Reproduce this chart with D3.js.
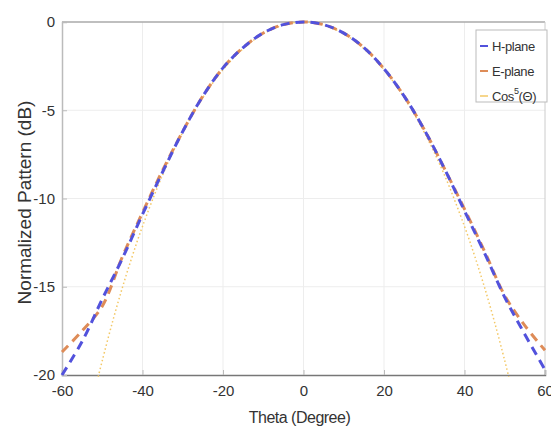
<!DOCTYPE html>
<html>
<head>
<meta charset="utf-8">
<script src="https://cdn.jsdelivr.net/npm/d3@7"></script>
<style>
  body { margin: 0; background: #fff; }
  text { font-family: "Liberation Sans", Arial, sans-serif; fill: #333; }
</style>
</head>
<body>
<div id="chart"></div>
<script>
var width = 551
var height = 441
var margin = {top: 22, right: 6, bottom: 66, left: 62}

// angles (degree) for the measured patterns
var theta = [-60, -55, -50, -45, -40, -35, -30, -25, -20, -15, -10, -5, 0,
             5, 10, 15, 20, 25, 30, 35, 40, 45, 50, 55, 60]
var hPlane = [-20.0, -18.1, -15.7, -13.4, -10.9, -8.5, -6.2, -4.2, -2.6, -1.45, -0.62, -0.15, 0,
              -0.15, -0.63, -1.45, -2.65, -4.2, -6.1, -8.3, -10.7, -13.1, -15.6, -17.7, -19.7]
var ePlane = [-18.7, -17.5, -16.1, -13.3, -10.8, -8.4, -6.2, -4.2, -2.6, -1.45, -0.62, -0.15, 0,
              -0.15, -0.63, -1.45, -2.65, -4.2, -6.1, -8.3, -10.6, -13.0, -15.5, -17.2, -18.6]
// reference cos^5 pattern
var thetaCos = [-51, -50, -47.5, -45, -42.5, -40, -35, -30, -25, -20, -15, -10, -5, 0,
                5, 10, 15, 20, 25, 30, 35, 40, 42.5, 45, 47.5, 50, 51]
var cosPattern = [-20.1, -19.19, -17.03, -15.05, -13.24, -11.58, -8.66, -6.25, -4.27, -2.70, -1.51, -0.67, -0.17, 0,
                  -0.17, -0.67, -1.51, -2.70, -4.27, -6.25, -8.66, -11.58, -13.24, -15.05, -17.03, -19.19, -20.1]

var xTicks = [-60, -40, -20, 0, 20, 40, 60]
var yTicks = [0, -5, -10, -15, -20]

var series = [
  {name: "H-plane", x: theta, y: hPlane, color: "#5252dc", width: 3, dash: "9,6"},
  {name: "E-plane", x: theta, y: ePlane, color: "#de8c58", width: 3, dash: "9,6"},
  {name: "Cos", x: thetaCos, y: cosPattern, color: "#f3c866", width: 1.5, dash: "1.5,2.5"}
]

var svg = d3.select("#chart").append("svg")
  .attr("width", width)
  .attr("height", height)

var x = d3.scaleLinear().domain([-60, 60]).range([margin.left, width - margin.right])
var y = d3.scaleLinear().domain([-20, 0]).range([height - margin.bottom, margin.top])

// grid
svg.append("g").selectAll("line.gx")
  .data(xTicks.slice(1, -1))
  .enter().append("line")
  .attr("x1", d => x(d)).attr("x2", d => x(d))
  .attr("y1", y(0)).attr("y2", y(-20))
  .attr("stroke", "#ededed")
svg.append("g").selectAll("line.gy")
  .data(yTicks.slice(1, -1))
  .enter().append("line")
  .attr("x1", x(-60)).attr("x2", x(60))
  .attr("y1", d => y(d)).attr("y2", d => y(d))
  .attr("stroke", "#ededed")

// frame
svg.append("line").attr("x1", x(-60)).attr("x2", x(60)).attr("y1", y(0)).attr("y2", y(0)).attr("stroke", "#aaa").attr("stroke-width", 1.5)
svg.append("line").attr("x1", x(60)).attr("x2", x(60)).attr("y1", y(0)).attr("y2", y(-20)).attr("stroke", "#ccc")

var xAxis = svg.append("g")
  .attr("transform", "translate(0," + y(-20) + ")")
  .call(d3.axisBottom(x).tickValues(xTicks).tickSize(-5).tickPadding(10).tickFormat(d => String(d)))
var yAxis = svg.append("g")
  .attr("transform", "translate(" + x(-60) + ",0)")
  .call(d3.axisLeft(y).tickValues(yTicks).tickSize(-5).tickPadding(7).tickFormat(d => String(d)))

xAxis.select(".domain").attr("stroke", "#777").attr("stroke-width", 1.5)
yAxis.select(".domain").attr("stroke", "#bbb").attr("stroke-width", 1.5)
svg.selectAll(".tick line").attr("stroke", "#bbb")
svg.selectAll(".tick text")
  .attr("font-size", 15)
  .attr("fill", "#444")
  .style("font-family", "Liberation Sans, Arial")

// curves
var line = d3.line()
  .x(d => x(d[0]))
  .y(d => y(d[1]))
  .curve(d3.curveCatmullRom.alpha(0.5))

series.slice().reverse().forEach(function(s) {
  svg.append("path")
    .datum(s.x.map((v, i) => [v, s.y[i]]))
    .attr("d", line)
    .attr("fill", "none")
    .attr("stroke", s.color)
    .attr("stroke-width", s.width)
    .attr("stroke-dasharray", s.dash)
})

// legend
var lg = svg.append("g").attr("transform", "translate(476,30)")
lg.append("rect").attr("width", 71).attr("height", 72)
  .attr("fill", "#fff").attr("stroke", "#bbb")
series.forEach(function(s, i) {
  var row = lg.append("g").attr("transform", "translate(0," + (16 + i * 25) + ")")
  row.append("line").attr("x1", 4).attr("x2", 12).attr("y1", 0).attr("y2", 0)
    .attr("stroke", s.color).attr("stroke-width", i < 2 ? 2 : 1.5)
  var t = row.append("text").attr("x", 16).attr("y", 5)
    .attr("font-size", 13)
    .attr("fill", "#444")
    .attr("letter-spacing", -0.4)
  if (s.name == "Cos") {
    t.append("tspan").text("Cos")
    t.append("tspan").attr("dy", -7).attr("font-size", 9).text("5")
    t.append("tspan").attr("dy", 7).text("(Θ)")
  } else {
    t.text(s.name)
  }
})

// axis titles
svg.append("text")
  .attr("x", (x(-60) + x(60)) / 2 - 4)
  .attr("y", 423)
  .attr("text-anchor", "middle")
  .attr("font-size", 16)
  .attr("fill", "#444")
  .attr("letter-spacing", -0.5)
  .text("Theta (Degree)")
svg.append("text")
  .attr("transform", "translate(31," + ((y(0) + y(-20)) / 2 + 4) + ") rotate(-90)")
  .attr("text-anchor", "middle")
  .attr("font-size", 19)
  .attr("fill", "#444")
  .text("Normalized Pattern (dB)")
</script>
</body>
</html>
